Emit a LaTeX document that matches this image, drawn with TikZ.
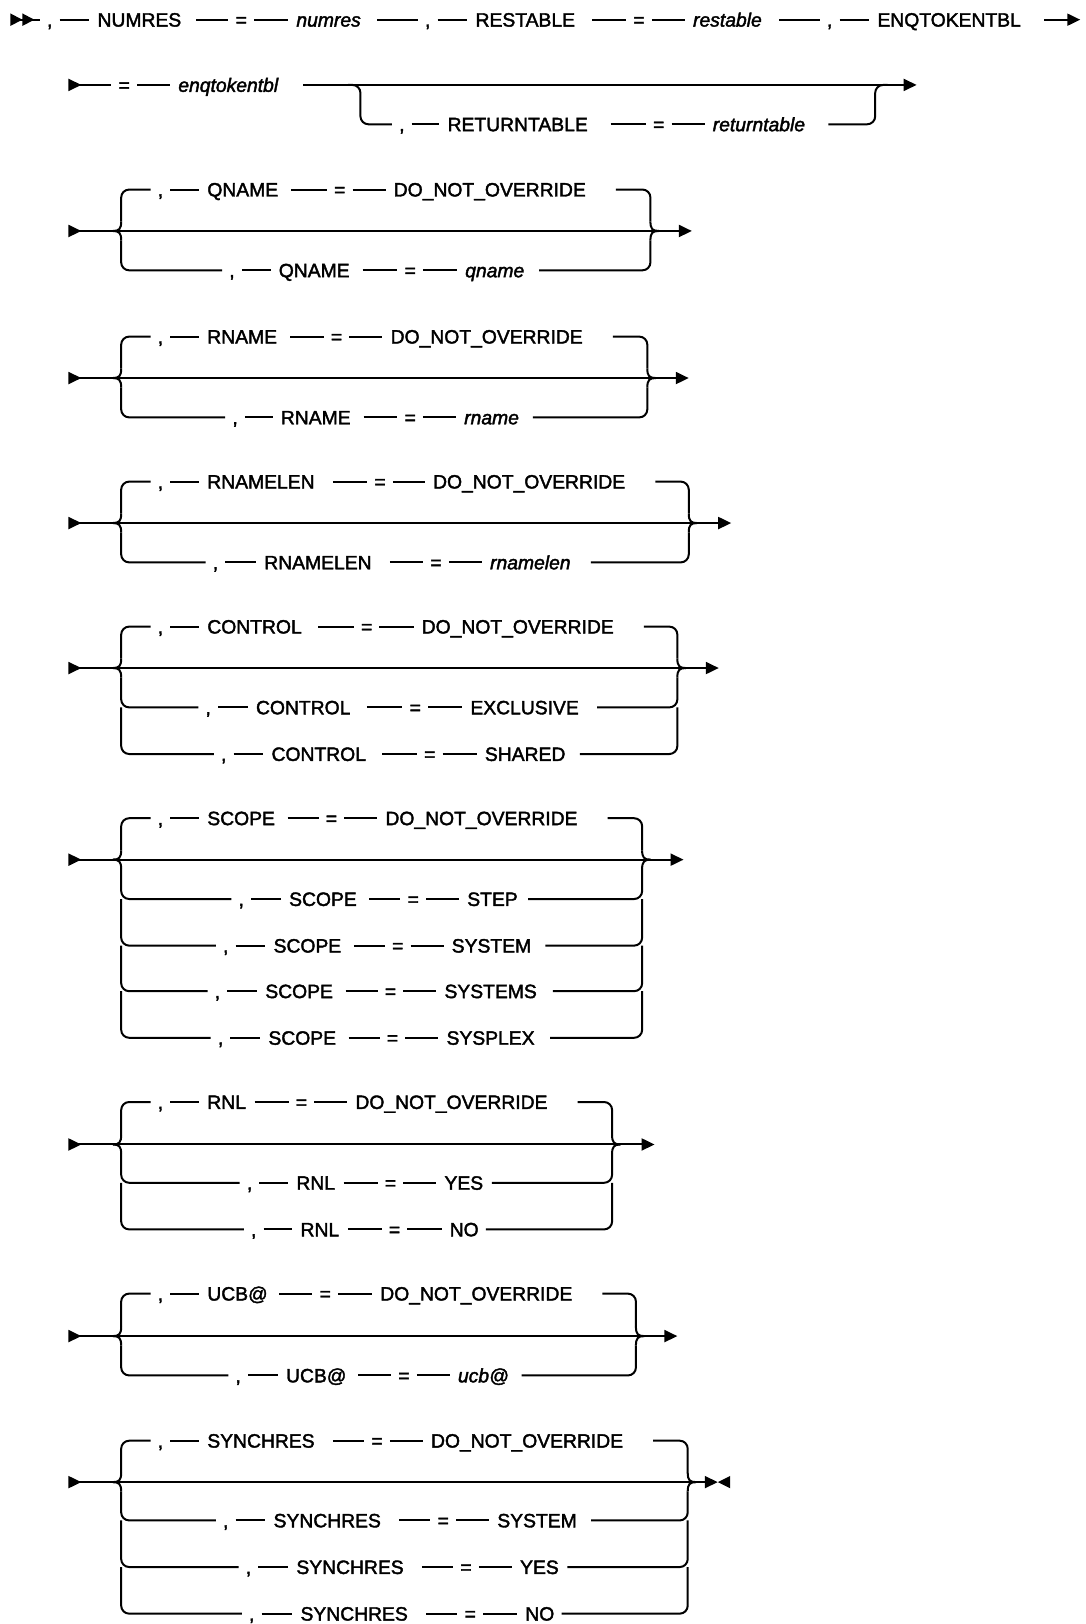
\documentclass[tikz,border=0pt]{standalone}
\usepackage{fontspec}
\setmainfont{Liberation Sans}[FakeBold=2]
\usetikzlibrary{arrows.meta}
\newcommand\kw[1]{\setbox0=\hbox{#1}\dimen0=\wd0\box0\hspace*{\dimexpr\dimen0*14/100-5pt\relax}}
\newcommand\iv[1]{\setbox0=\hbox{\itshape #1}\dimen0=\wd0\box0\hspace*{\dimexpr\dimen0*25/100-8pt\relax}}
\newcommand\tk[8]{%
  \node[sym] (#1c) at (#3,#2) {,};
  \node[word] (#1k) at (#4,#2) {\kw{#5}};
  \node[sym] (#1e) at (#6,#2) {=};
  \node[word] (#1v) at (#7,#2) {#8};
  \draw[conn] (#1c) -- (#1k) -- (#1e) -- (#1v);
}
\newcommand\lb[4]{\draw[conn,rounded corners=8pt] (#1,#2) -- (#1,#3) -- (#4);}
\newcommand\rb[4]{\draw[conn,rounded corners=8pt] (#4) -- (#1,#3) -- (#1,#2);}
\newcommand\cusps[3]{%
  \draw[conn] (#1-8,#3) .. controls (#1-2,#3) and (#1,#3-2) .. (#1,#3-9);
  \draw[conn] (#1-8,#3) .. controls (#1-2,#3) and (#1,#3+2) .. (#1,#3+9);
  \draw[conn] (#2+8,#3) .. controls (#2+2,#3) and (#2,#3-2) .. (#2,#3-9);
  \draw[conn] (#2+8,#3) .. controls (#2+2,#3) and (#2,#3+2) .. (#2,#3+9);
}
\newcommand\grp[5]{%
  \coordinate (#1s) at (66,#4);
  \coordinate (#1e) at (#5,#4);
  \draw[conn,both] (#1s) -- (#1e);
  \cusps{#2}{#3}{#4}
}
\begin{document}
\begin{tikzpicture}[x=1.0353pt,y=-1.0353pt,
  conn/.style={line width=2pt},
  sym/.style={font=\fontsize{19.3pt}{22pt}\selectfont, text height=13.8pt, text depth=0pt, inner ysep=0pt, inner xsep=7pt},
  word/.style={sym, inner xsep=8pt, anchor=west, xshift=-8pt},
  sarr/.style={{Triangle[reversed,length=13pt,width=12pt]}-},
  earr/.style={-{Triangle[length=13pt,width=12pt]}},
  both/.style={{Triangle[reversed,length=13pt,width=12pt]}-{Triangle[length=13pt,width=12pt]}}]
\fill[white] (0,0) rectangle (1048,1568);
\useasboundingbox (0,0) rectangle (1048,1568);

% ---------- row 1
\coordinate (r1s) at (10,19);
\node[sym] (r1c1) at (48,19) {,};
\node[word] (r1k1) at (94,19) {\kw{NUMRES}};
\node[sym] (r1e1) at (233,19) {=};
\node[word] (r1v1) at (286,19) {\iv{numres}};
\node[sym] (r1c2) at (413,19) {,};
\node[word] (r1k2) at (459,19) {\kw{RESTABLE}};
\node[sym] (r1e2) at (617,19) {=};
\node[word] (r1v2) at (669,19) {\iv{restable}};
\node[sym] (r1c3) at (801,19) {,};
\node[word] (r1k3) at (847,19) {\kw{ENQTOKENTBL}};
\coordinate (r1t) at (1043,19);
\draw[conn,{Triangle[reversed,length=12pt,width=12pt,sep=0pt]Triangle[reversed,length=12pt,width=12pt,sep=0pt]}-] (r1s) -- (r1c1);
\draw[conn] (r1c1) -- (r1k1) -- (r1e1) -- (r1v1) -- (r1c2) -- (r1k2) -- (r1e2) -- (r1v2) -- (r1c3) -- (r1k3);
\draw[conn,earr] (r1k3) -- (r1t);

% ---------- row 2
\coordinate (r2s) at (66,82);
\node[sym] (r2e) at (120,82) {=};
\node[word] (r2v) at (172,82) {\iv{enqtokentbl}};
\coordinate (r2t) at (885,82);
\draw[conn,sarr] (r2s) -- (r2e);
\draw[conn] (r2e) -- (r2v);
\draw[conn,earr] (r2v) -- (r2t);
\tk{r2b}{120}{388}{432}{RETURNTABLE}{636}{688}{\iv{returntable}}
\coordinate (r2j1) at (336,82);
\coordinate (r2j2) at (857,82);
\draw[conn,rounded corners=8pt] (r2j1) -- (348,82) -- (348,120) -- (r2bc);
\draw[conn,rounded corners=8pt] (r2bv) -- (845,120) -- (845,82) -- (r2j2);

% ---------- QNAME
\grp{g1}{117}{628}{223}{668}
\tk{g1t}{183}{155}{200}{QNAME}{328}{380}{\kw{DO\_NOT\_OVERRIDE}}
\tk{g1a}{261}{224}{269}{QNAME}{396}{449}{\iv{qname}}
\lb{117}{214}{183}{g1tc}
\lb{117}{232}{261}{g1ac}
\rb{628}{214}{183}{g1tv}
\rb{628}{232}{261}{g1av}

% ---------- RNAME
\grp{g2}{117}{625}{365}{665}
\tk{g2t}{325}{155}{200}{RNAME}{325}{377}{\kw{DO\_NOT\_OVERRIDE}}
\tk{g2a}{403}{227}{271}{RNAME}{396}{448}{\iv{rname}}
\lb{117}{356}{325}{g2tc}
\lb{117}{374}{403}{g2ac}
\rb{625}{356}{325}{g2tv}
\rb{625}{374}{403}{g2av}

% ---------- RNAMELEN
\grp{g3}{117}{665}{505}{706}
\tk{g3t}{465}{155}{200}{RNAMELEN}{367}{418}{\kw{DO\_NOT\_OVERRIDE}}
\tk{g3a}{543}{208}{255}{RNAMELEN}{421}{473}{\iv{rnamelen}}
\lb{117}{496}{465}{g3tc}
\lb{117}{514}{543}{g3ac}
\rb{665}{496}{465}{g3tv}
\rb{665}{514}{543}{g3av}

% ---------- CONTROL
\grp{g4}{117}{654}{645}{694}
\tk{g4t}{605}{155}{200}{CONTROL}{354}{407}{\kw{DO\_NOT\_OVERRIDE}}
\tk{g4a}{683}{201}{247}{CONTROL}{401}{454}{\kw{EXCLUSIVE}}
\tk{g4b}{728}{216}{262}{CONTROL}{415}{468}{\kw{SHARED}}
\lb{117}{636}{605}{g4tc}
\lb{117}{654}{683}{g4ac}
\lb{117}{683}{728}{g4bc}
\rb{654}{636}{605}{g4tv}
\rb{654}{654}{683}{g4av}
\rb{654}{683}{728}{g4bv}

% ---------- SCOPE
\grp{g5}{117}{620}{830}{660}
\tk{g5t}{790}{155}{200}{SCOPE}{320}{372}{\kw{DO\_NOT\_OVERRIDE}}
\tk{g5a}{868}{233}{279}{SCOPE}{399}{451}{\kw{STEP}}
\tk{g5b}{913}{218}{264}{SCOPE}{384}{436}{\kw{SYSTEM}}
\tk{g5c}{957}{210}{256}{SCOPE}{377}{429}{\kw{SYSTEMS}}
\tk{g5d}{1002}{213}{259}{SCOPE}{379}{431}{\kw{SYSPLEX}}
\lb{117}{821}{790}{g5tc}
\lb{117}{839}{868}{g5ac}
\lb{117}{868}{913}{g5bc}
\lb{117}{913}{957}{g5cc}
\lb{117}{957}{1002}{g5dc}
\rb{620}{821}{790}{g5tv}
\rb{620}{839}{868}{g5av}
\rb{620}{868}{913}{g5bv}
\rb{620}{913}{957}{g5cv}
\rb{620}{957}{1002}{g5dv}

% ---------- RNL
\grp{g6}{117}{591}{1105}{632}
\tk{g6t}{1064}{155}{200}{RNL}{291}{343}{\kw{DO\_NOT\_OVERRIDE}}
\tk{g6a}{1142}{241}{286}{RNL}{377}{429}{\kw{YES}}
\tk{g6b}{1187}{245}{290}{RNL}{381}{434}{\kw{NO}}
\lb{117}{1096}{1064}{g6tc}
\lb{117}{1114}{1142}{g6ac}
\lb{117}{1142}{1187}{g6bc}
\rb{591}{1096}{1064}{g6tv}
\rb{591}{1114}{1142}{g6av}
\rb{591}{1142}{1187}{g6bv}

% ---------- UCB@
\grp{g7}{117}{614}{1290}{654}
\tk{g7t}{1249}{155}{200}{UCB@}{314}{367}{\kw{DO\_NOT\_OVERRIDE}}
\tk{g7a}{1328}{230}{276}{UCB@}{390}{442}{\iv{ucb@}}
\lb{117}{1281}{1249}{g7tc}
\lb{117}{1299}{1328}{g7ac}
\rb{614}{1281}{1249}{g7tv}
\rb{614}{1299}{1328}{g7av}

% ---------- SYNCHRES
\grp{g8}{117}{664}{1431}{693}
\fill (705,1425) -- (693,1431) -- (705,1437) -- cycle;
\tk{g8t}{1391}{155}{200}{SYNCHRES}{364}{416}{\kw{DO\_NOT\_OVERRIDE}}
\tk{g8a}{1468}{218}{264}{SYNCHRES}{428}{480}{\kw{SYSTEM}}
\tk{g8b}{1513}{240}{286}{SYNCHRES}{450}{502}{\kw{YES}}
\tk{g8c}{1558}{243}{290}{SYNCHRES}{454}{507}{\kw{NO}}
\lb{117}{1422}{1391}{g8tc}
\lb{117}{1440}{1468}{g8ac}
\lb{117}{1468}{1513}{g8bc}
\lb{117}{1513}{1558}{g8cc}
\rb{664}{1422}{1391}{g8tv}
\rb{664}{1440}{1468}{g8av}
\rb{664}{1468}{1513}{g8bv}
\rb{664}{1513}{1558}{g8cv}
\end{tikzpicture}
\end{document}
